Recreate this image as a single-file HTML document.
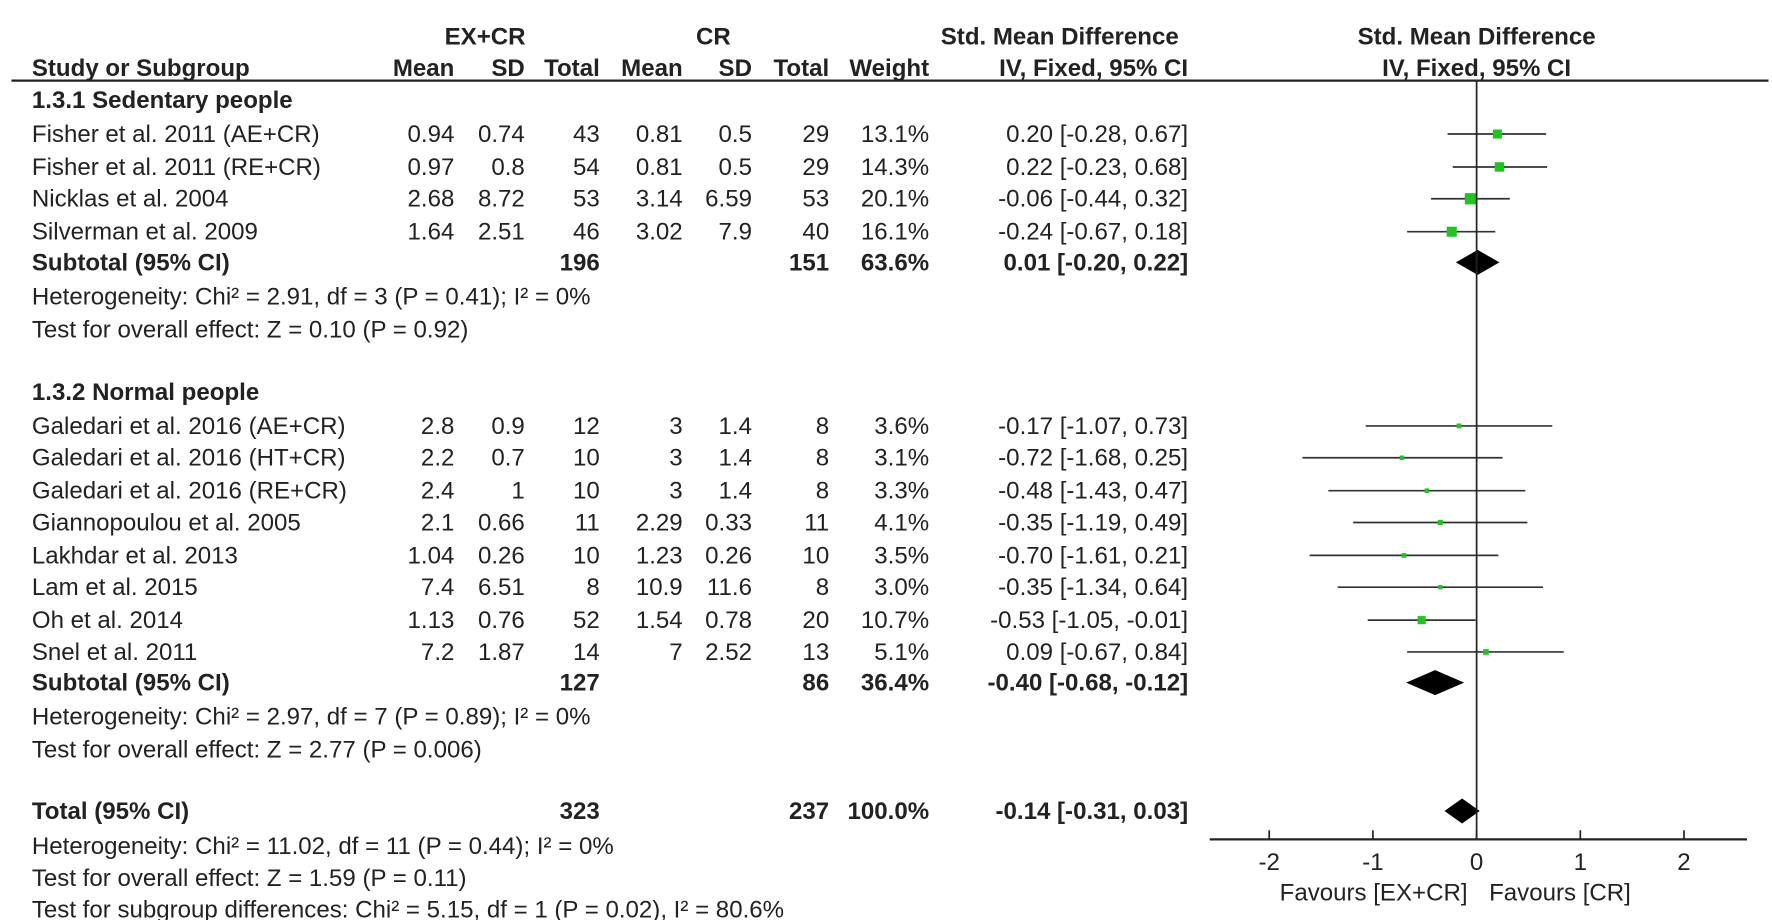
<!DOCTYPE html>
<html><head><meta charset="utf-8"><style>
html,body{margin:0;padding:0;background:#fff;}
svg{display:block;font-family:"Liberation Sans",Arial,sans-serif;}
text{fill:#222;font-size:21.2px;}
.b{font-weight:bold;}
</style></head><body>
<svg id="c" width="1772" height="920" viewBox="0 0 1560 810" xmlns="http://www.w3.org/2000/svg"></svg>
<script>
const studyNames=["Fisher et al. 2011 (AE+CR)","Fisher et al. 2011 (RE+CR)","Nicklas et al. 2004","Silverman et al. 2009","Galedari et al. 2016 (AE+CR)","Galedari et al. 2016 (HT+CR)","Galedari et al. 2016 (RE+CR)","Giannopoulou et al. 2005","Lakhdar et al. 2013","Lam et al. 2015","Oh et al. 2014","Snel et al. 2011"];
const exMean=["0.94","0.97","2.68","1.64","2.8","2.2","2.4","2.1","1.04","7.4","1.13","7.2"];
const exSD=["0.74","0.8","8.72","2.51","0.9","0.7","1","0.66","0.26","6.51","0.76","1.87"];
const exN=[43,54,53,46,12,10,10,11,10,8,52,14];
const crMean=["0.81","0.81","3.14","3.02","3","3","3","2.29","1.23","10.9","1.54","7"];
const crSD=["0.5","0.5","6.59","7.9","1.4","1.4","1.4","0.33","0.26","11.6","0.78","2.52"];
const crN=[29,29,53,40,8,8,8,11,10,8,20,13];
const weights=[13.1,14.3,20.1,16.1,3.6,3.1,3.3,4.1,3.5,3.0,10.7,5.1];
const smd=[0.20,0.22,-0.06,-0.24,-0.17,-0.72,-0.48,-0.35,-0.70,-0.35,-0.53,0.09];
const ciLo=[-0.28,-0.23,-0.44,-0.67,-1.07,-1.68,-1.43,-1.19,-1.61,-1.34,-1.05,-0.67];
const ciHi=[0.67,0.68,0.32,0.18,0.73,0.25,0.47,0.49,0.21,0.64,-0.01,0.84];
const pooledLabels=["Subtotal (95% CI)","Subtotal (95% CI)","Total (95% CI)"];
const pooledEx=[196,127,323];
const pooledCr=[151,86,237];
const pooledW=["63.6%","36.4%","100.0%"];
const pooledSmd=[0.01,-0.40,-0.14];
const pooledLo=[-0.20,-0.68,-0.31];
const pooledHi=[0.22,-0.12,0.03];
const axisTicks=[-2,-1,0,1,2];

const svg=document.getElementById('c');
const NS="http://www.w3.org/2000/svg";
function el(tag,attrs,parent){const e=document.createElementNS(NS,tag);for(const k in attrs)e.setAttribute(k,attrs[k]);(parent||svg).appendChild(e);return e;}
function txt(s,x,y,anchor,bold,name){const t=el('text',{x:x,y:y,'text-anchor':anchor||'start'});if(bold)t.setAttribute('class','b');t.textContent=s;


return t;}
const X0=1300,U=91.3;
const xs=v=>X0+v*U;
function f2(v){return (v<0?'-':'')+Math.abs(v).toFixed(2);}
function ci(a,b,c){return f2(a)+' ['+f2(b)+', '+f2(c)+']';}

txt('EX+CR',427,39,'middle',true,'header-ex-cr');
txt('CR',628,39,'middle',true,'header-cr');
txt('Std. Mean Difference',933,39,'middle',true,'header-smd');
txt('Std. Mean Difference',1300,39,'middle',true,'header-plot-smd');
txt('Study or Subgroup',28,67,'start',true,'header-study');
const hdr=[['Mean',400],['SD',462],['Total',528],['Mean',601],['SD',662],['Total',730],['Weight',818],['IV, Fixed, 95% CI',1046]];
hdr.forEach(h=>txt(h[0],h[1],67,'end',true,'header-column'));
txt('IV, Fixed, 95% CI',1300,67,'middle',true,'header-plot-method');
const hl=el('line',{x1:10,y1:71,x2:1557,y2:71,stroke:'#222','stroke-width':2});



const rowY=[125,154,182,211,382,410,439,467,496,524,553,581];
const cols=[400,462,528,601,662,730,818,1046];
function studyRow(i){
  const y=rowY[i];
  txt(studyNames[i],28,y,'start',false,'study-name');
  [exMean[i],exSD[i],exN[i],crMean[i],crSD[i],crN[i],weights[i].toFixed(1)+'%',ci(smd[i],ciLo[i],ciHi[i])].forEach((v,k)=>txt(String(v),cols[k],y,'end',false,'study-value'));
  const cy=y-7;
  const l=el('line',{x1:xs(ciLo[i]),x2:xs(ciHi[i]),y1:cy,y2:cy,stroke:'#333','stroke-width':1.5});
  
  
  const s=Math.max(3,Math.sqrt(weights[i])*2.2);
  const r=el('rect',{x:xs(smd[i])-s/2,y:cy-s/2,width:s,height:s,fill:'#1fc41f'});
  
  
}
const pooledY=[238,608,721];
function pooledRow(j){
  const y=pooledY[j];
  txt(pooledLabels[j],28,y,'start',true,'pooled-label');
  txt(String(pooledEx[j]),528,y,'end',true,'pooled-value');
  txt(String(pooledCr[j]),730,y,'end',true,'pooled-value');
  txt(pooledW[j],818,y,'end',true,'pooled-value');
  txt(ci(pooledSmd[j],pooledLo[j],pooledHi[j]),1046,y,'end',true,'pooled-value');
  const cy=y-7,h=11;
  const d=el('polygon',{points:`${xs(pooledLo[j])},${cy} ${xs(pooledSmd[j])},${cy-h} ${xs(pooledHi[j])},${cy} ${xs(pooledSmd[j])},${cy+h}`,fill:'#000'});
  
  
}
txt('1.3.1 Sedentary people',28,95,'start',true,'group-title');
for(let i=0;i<4;i++)studyRow(i);
pooledRow(0);
txt('Heterogeneity: Chi² = 2.91, df = 3 (P = 0.41); I² = 0%',28,268,'start',false,'heterogeneity');
txt('Test for overall effect: Z = 0.10 (P = 0.92)',28,297,'start',false,'overall-effect');
txt('1.3.2 Normal people',28,352,'start',true,'group-title');
for(let i=4;i<12;i++)studyRow(i);
pooledRow(1);
txt('Heterogeneity: Chi² = 2.97, df = 7 (P = 0.89); I² = 0%',28,638,'start',false,'heterogeneity');
txt('Test for overall effect: Z = 2.77 (P = 0.006)',28,667,'start',false,'overall-effect');
pooledRow(2);
txt('Heterogeneity: Chi² = 11.02, df = 11 (P = 0.44); I² = 0%',28,752,'start',false,'heterogeneity');
txt('Test for overall effect: Z = 1.59 (P = 0.11)',28,780,'start',false,'overall-effect');
txt('Test for subgroup differences: Chi² = 5.15, df = 1 (P = 0.02), I² = 80.6%',28,808,'start',false,'subgroup-differences');

const vz=el('line',{x1:X0,y1:71,x2:X0,y2:739,stroke:'#222','stroke-width':1.5});


const ax=el('line',{x1:1065,y1:739,x2:1538,y2:739,stroke:'#222','stroke-width':2});


axisTicks.forEach(t=>{
  const tk=el('line',{x1:xs(t),x2:xs(t),y1:731,y2:739,stroke:'#222','stroke-width':1.5});
  
  
  txt(String(t),xs(t),766,'middle',false,'x-tick-label');
});
txt('Favours [EX+CR]',1292,793,'end',false,'favours-left');
txt('Favours [CR]',1311,793,'start',false,'favours-right');
</script>
</body></html>
